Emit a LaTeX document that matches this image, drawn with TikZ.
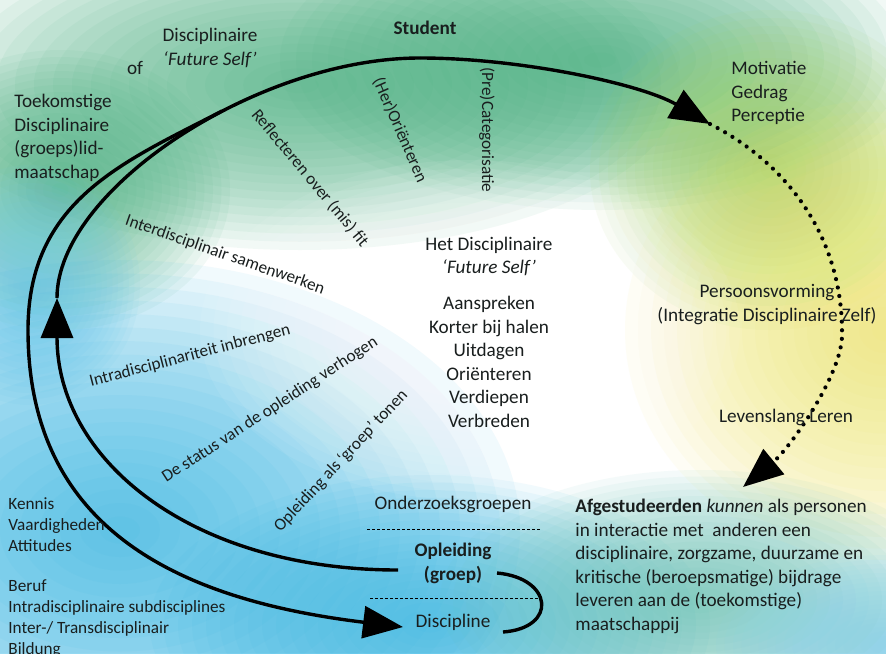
\documentclass[tikz,border=0pt]{standalone}
\usepackage{fontspec}
\setmainfont{Carlito}
\usetikzlibrary{arrows.meta}

\definecolor{muntgroen}{RGB}{70,176,126}
\definecolor{geel}{RGB}{240,232,110}
\definecolor{geelgroen}{RGB}{160,208,90}
\definecolor{hemelblauw}{RGB}{52,182,228}
\definecolor{zeegroen}{RGB}{104,194,180}
\definecolor{inkt}{RGB}{25,30,30}

\tikzset{
  tekst/.style={font=\fontsize{9.6}{11.8}\selectfont, text=inkt, inner sep=0pt},
  klein/.style={font=\fontsize{8.6}{10.5}\selectfont, text=inkt, inner sep=0pt},
  lijn/.style={line width=1.7pt, draw=black},
  stippel/.style={line width=2.1pt, line cap=round, dash pattern=on 0pt off 4.3pt},
  streep/.style={line width=0.5pt, dash pattern=on 1.6pt off 0.9pt},
  pijl/.style={-{Triangle[length=20pt,width=16pt]}}
}

\begin{document}
\begin{tikzpicture}[x=0.5pt,y=-0.5pt]
              \useasboundingbox (0,0) rectangle (886,653);
              \fill[white] (0,0) rectangle (886,653);
              \begin{scope}
                \clip (0,0) rectangle (886,653);
                \foreach \kleur/\mx/\my/\rx/\ry in {muntgroen/300/85/380/165, muntgroen/600/60/320/150,
                    muntgroen/60/190/170/140, hemelblauw!70/30/285/110/120, geelgroen/770/170/180/160,
                    geel/885/330/260/230, hemelblauw/120/530/400/270, hemelblauw/430/625/280/150,
                    zeegroen/700/600/260/130, hemelblauw!60/886/645/170/90, white/470/330/270/170}
                  \foreach \s in {20,19,...,1}
                    \fill[\kleur, fill opacity=0.065] (\mx,\my) ellipse ({\rx*\s/20} and {\ry*\s/20});
              \end{scope}

              \coordinate (oplUit) at (398,570);
              \coordinate (pijlOp) at (57,298);
              \coordinate (top) at (420,58);
              \coordinate (pijlRechts) at (710,124);
              \coordinate (splits) at (222,111);
              \coordinate (linksUit) at (28,330);
              \coordinate (pijlDisc) at (403,627);
              \coordinate (rechtsUit) at (842,335);
              \coordinate (pijlAfg) at (743,487);
              \coordinate (haakBoven) at (497,573);
              \coordinate (haakOnder) at (503,632);

              \draw[lijn,pijl] (oplUit) .. controls (193,570) and (57,461) .. (pijlOp);
              \draw[lijn] (pijlOp) .. controls (57,190) and (257,58) .. (top);
              \draw[lijn,pijl] (top) .. controls (520,58) and (641,84) .. (pijlRechts);
              \draw[lijn] (splits) .. controls (124,162) and (28,200) .. (linksUit);
              \draw[lijn,pijl] (linksUit) .. controls (28,530) and (180,600) .. (pijlDisc);
              \draw[stippel,pijl] (pijlRechts) .. controls (790,165) and (843,240) .. (rechtsUit)
                    .. controls (842,375) and (789,449) .. (pijlAfg);
              \draw[lijn] (haakBoven) .. controls (553,578) and (558,628) .. (haakOnder);

              \draw[streep] (367,529) -- (540,529);
              \draw[streep] (370,598) -- (538,598);

              \node[tekst, anchor=base] (student) at (425,34.5) {\textbf{Student}};
              \node[tekst, align=center, anchor=base] (dfs) at (210,65.1) {Disciplinaire\\\textit{`Future Self'}};
              \node[tekst, anchor=base] (of) at (135,74.5) {of};
              \node[tekst, align=left, anchor=base west] (toekomst) at (14,178.3) {Toekomstige\\Disciplinaire\\(groeps)lid-\\maatschap};
              \node[tekst, align=left, anchor=base west] (motivatie) at (731,121.7) {Motivatie\\Gedrag\\Perceptie};
              \node[tekst, align=center, anchor=base] (hetdfs) at (489,273.6) {Het Disciplinaire\\\textit{`Future Self'}};
              \node[tekst, align=center, anchor=base] (acties) at (489,427.5) {Aanspreken\\Korter bij halen\\Uitdagen\\Oriënteren\\Verdiepen\\Verbreden};
              \node[tekst, align=center, anchor=base] (persoon) at (767,321.1) {Persoonsvorming\\(Integratie Disciplinaire Zelf)};
              \node[tekst, anchor=base] (levenslang) at (786,422) {Levenslang Leren};
              \node[tekst, align=left, anchor=base west] (afgestudeerden) at (575,630.5) {\textbf{Afgestudeerden} \textit{kunnen} als personen\\in interactie met\ \ anderen een\\disciplinaire, zorgzame, duurzame en\\kritische (beroepsmatige) bijdrage\\leveren aan de (toekomstige)\\maatschappij};
              \node[tekst, anchor=base] (onderzoek) at (453,509.5) {Onderzoeksgroepen};
              \node[tekst, align=center, anchor=base] (opleiding) at (453,580.1) {\textbf{Opleiding}\\\textbf{(groep)}};
              \node[tekst, anchor=base] (discipline) at (453,627.5) {Discipline};
              \node[klein, align=left, anchor=base west] (kennis) at (8,551) {Kennis\\Vaardigheden\\Attitudes};
              \node[klein, align=left, anchor=base west] (beruf) at (8,654) {Beruf\\Intradisciplinaire subdisciplines\\Inter-/ Transdisciplinair\\Bildung};

              \node[klein, rotate=-50.2] (reflecteren) at (310,178) {Reflecteren over (mis) fit};
              \node[klein, rotate=-66.3] (herorienteren) at (400,130) {(Her)Oriënteren};
              \node[klein, rotate=-90] (precategorisatie) at (487,130) {(Pre)Categorisatie};
              \node[klein, rotate=-19.3] (interdisc) at (225,255) {Interdisciplinair samenwerken};
              \node[klein, rotate=14.6] (intradisc) at (190,356) {Intradisciplinariteit inbrengen};
              \node[klein, rotate=33] (status) at (270,410) {De status van de opleiding verhogen};
              \node[klein, rotate=47] (groeptonen) at (341,461) {Opleiding als `groep' tonen};
             \end{tikzpicture}
\end{document}
